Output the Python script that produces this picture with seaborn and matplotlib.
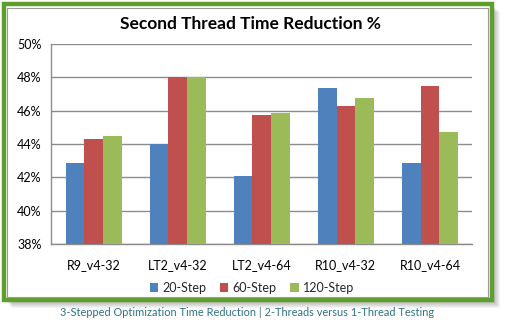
import matplotlib
matplotlib.use("Agg")
import matplotlib.pyplot as plt
from matplotlib.patches import Rectangle
from matplotlib.ticker import FuncFormatter, FixedLocator
import seaborn as sns
import pandas as pd

categories = ["R9_v4-32", "LT2_v4-32", "LT2_v4-64", "R10_v4-32", "R10_v4-64"]
series_names = ["20-Step", "60-Step", "120-Step"]
step20 = [42.86, 44.0, 42.1, 47.37, 42.86]
step60 = [44.3, 48.0, 45.75, 46.29, 47.49]
step120 = [44.5, 48.0, 45.87, 46.77, 44.73]
y_ticks = [38, 40, 42, 44, 46, 48, 50]
title = "Second Thread Time Reduction %"
caption = "3-Stepped Optimization Time Reduction | 2-Threads versus 1-Thread Testing"

colors = ["#4F81BD", "#C0504D", "#9BBB59"]

rows = []
for name, vals in zip(series_names, [step20, step60, step120]):
    for cat, v in zip(categories, vals):
        rows.append({"Test": cat, "Series": name, "Reduction": v})
df = pd.DataFrame(rows)

sns.set_style("white")
plt.rcParams["font.family"] = ["Lato", "DejaVu Sans"]

W, H = 506, 327
fig = plt.figure(figsize=(W / 100, H / 100), dpi=100)
fig.patch.set_facecolor("white")


def px_rect(x0, y0, x1, y1, **kw):
    # rectangle given in pixel coordinates measured from the top-left corner
    return Rectangle((x0 / W, 1 - y1 / H), (x1 - x0) / W, (y1 - y0) / H,
                     transform=fig.transFigure, **kw)


# soft drop shadow behind the chart frame
for i in range(8, 0, -1):
    fig.patches.append(px_rect(4 + i, 4 + i, 492 + i, 300 + i,
                               facecolor="#000000", edgecolor="none",
                               alpha=0.045, zorder=0))
# white chart panel with green border
fig.patches.append(px_rect(4, 4, 492, 300, facecolor="white",
                           edgecolor="#5E9E2C", linewidth=3.2, zorder=1))
fig.patches.append(px_rect(7.5, 7.5, 488.5, 296.5, facecolor="none",
                           edgecolor="#9A9A9A", linewidth=0.8, zorder=1))

ax = fig.add_axes([51.5 / W, 1 - 244 / H, (472 - 51.5) / W, (244 - 44) / H])
ax.set_zorder(2)
ax.patch.set_alpha(0)

sns.barplot(data=df, x="Test", y="Reduction", hue="Series",
            palette=colors, width=0.667, gap=0, ax=ax, saturation=1,
            edgecolor="none", linewidth=0, zorder=3)

ax.set_ylim(38, 50)
ax.set_xlim(-0.5, len(categories) - 0.5)
ax.yaxis.set_major_locator(FixedLocator(y_ticks))
ax.yaxis.set_major_formatter(FuncFormatter(lambda v, p: f"{v:.0f}%"))
ax.grid(axis="y", color="#8C8C8C", linewidth=1, zorder=0)
ax.set_axisbelow(True)
ax.set_xlabel("")
ax.set_ylabel("")

for s in ["top", "right"]:
    ax.spines[s].set_visible(False)
for s in ["left", "bottom"]:
    ax.spines[s].set_color("#8C8C8C")
    ax.spines[s].set_linewidth(1)

ax.tick_params(axis="y", which="major", direction="out", length=4,
               width=1, color="#8C8C8C", labelsize=9, labelcolor="black", pad=3)
ax.tick_params(axis="x", which="major", length=0, labelsize=9,
               labelcolor="black", pad=11)
ax.set_xticks([i + 0.5 for i in range(-1, len(categories))], minor=True)
ax.tick_params(axis="x", which="minor", direction="out", length=4,
               width=1, color="#8C8C8C")

leg = ax.legend(loc="upper center", bbox_to_anchor=(0.477, -0.165), ncol=3,
                frameon=False, fontsize=9, handlelength=0.65,
                handleheight=0.65, handletextpad=0.35, columnspacing=1.1,
                borderaxespad=0)

fig.text(250 / W, 1 - 24 / H, title, ha="center", va="center",
         fontsize=12.5, fontweight="bold", color="black", zorder=3)
fig.text(247 / W, 1 - 313 / H, caption, ha="center", va="center",
         fontsize=7.9, color="#2F7284", zorder=3)

fig.savefig("out.png", dpi=100, facecolor="white")
